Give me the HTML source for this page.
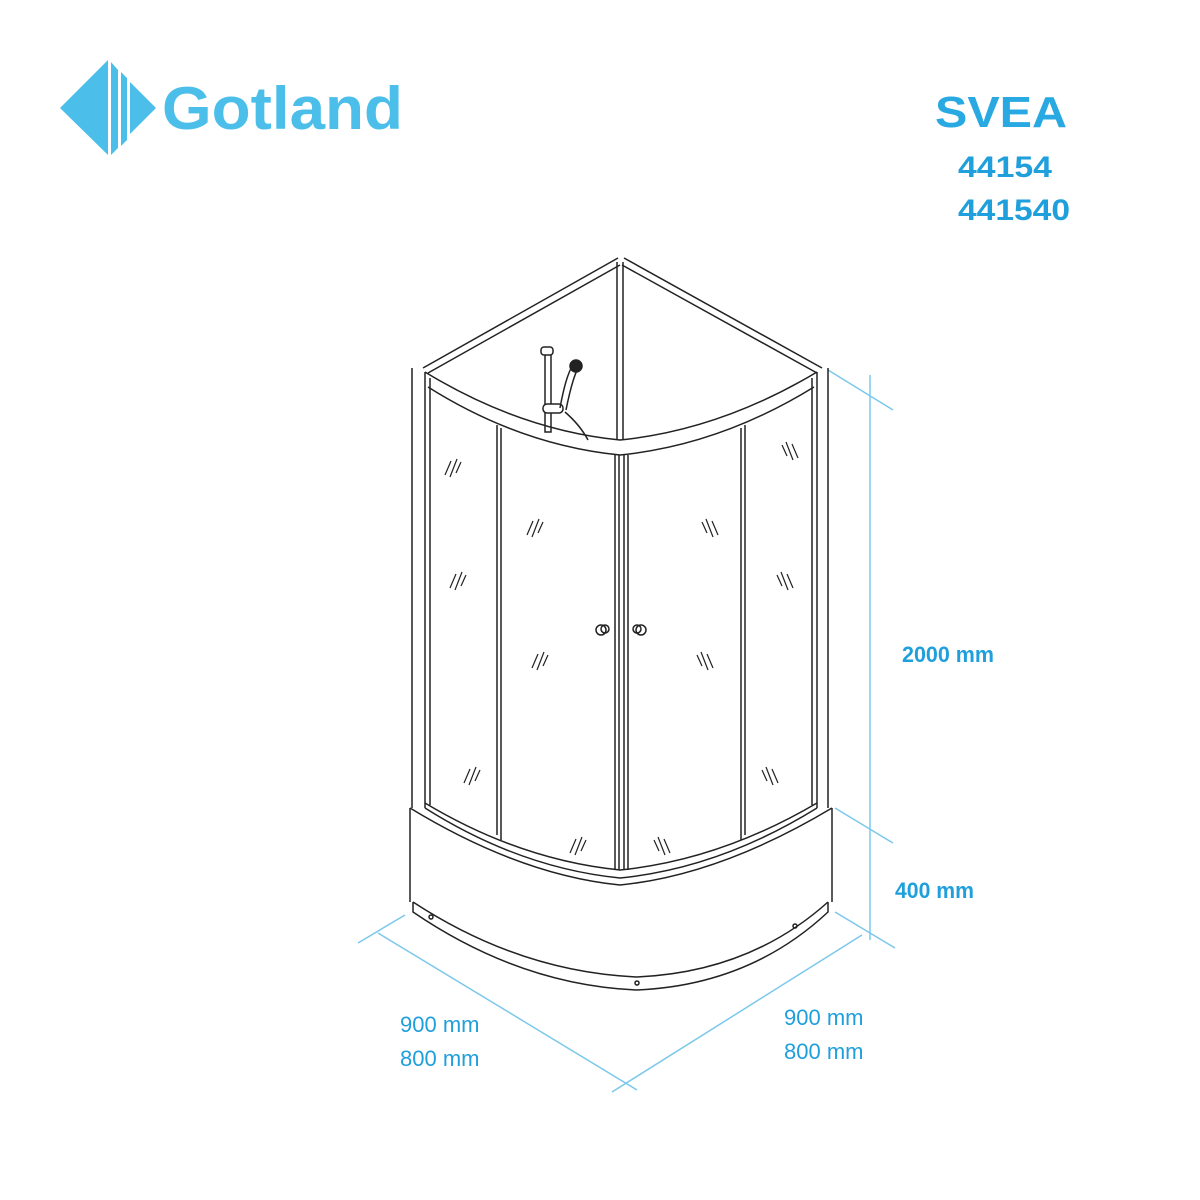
<!DOCTYPE html>
<html><head><meta charset="utf-8"><style>
html,body{margin:0;padding:0;background:#fff;}
svg{display:block}
</style></head><body>
<svg width="1200" height="1200" viewBox="0 0 1200 1200" xmlns="http://www.w3.org/2000/svg">
<defs>
<g id="hl"><line x1="-8" y1="8" x2="-2" y2="-6" /><line x1="-3" y1="10" x2="4" y2="-8"/><line x1="3" y1="6" x2="8" y2="-5"/></g>
<g id="hr"><line x1="8" y1="8" x2="2" y2="-6" /><line x1="3" y1="10" x2="-4" y2="-8"/><line x1="-3" y1="6" x2="-8" y2="-5"/></g>
</defs>
<!-- logo -->
<polygon points="60,108 108,60 108,155" fill="#4bbfea"/>
<polygon points="111,62 118,70 118,148 111,155" fill="#4bbfea"/>
<polygon points="121,72 127,78 127,140 121,146" fill="#4bbfea"/>
<polygon points="130,82 156,108 130,134" fill="#4bbfea"/>
<text x="162" y="129" font-family="Liberation Sans, sans-serif" font-size="60" font-weight="bold" fill="#4bbfea" textLength="241" lengthAdjust="spacingAndGlyphs">Gotland</text>
<text x="935" y="127" font-family="Liberation Sans, sans-serif" font-size="44" font-weight="bold" fill="#29a9e1" textLength="132" lengthAdjust="spacingAndGlyphs">SVEA</text>
<text x="958" y="177" font-family="Liberation Sans, sans-serif" font-size="30" font-weight="bold" fill="#1f9fdc" textLength="94" lengthAdjust="spacingAndGlyphs">44154</text>
<text x="958" y="220" font-family="Liberation Sans, sans-serif" font-size="30" font-weight="bold" fill="#1f9fdc" textLength="112" lengthAdjust="spacingAndGlyphs">441540</text>

<!-- dimension lines -->
<g stroke="#7cc8ea" stroke-width="1.5" fill="none">
<line x1="870" y1="375" x2="870" y2="940"/>
<line x1="828" y1="370" x2="893" y2="410"/>
<line x1="835" y1="808" x2="893" y2="843"/>
<line x1="835" y1="912" x2="895" y2="948"/>
<line x1="358" y1="943" x2="405" y2="915"/>
<line x1="378" y1="933" x2="637" y2="1090"/>
<line x1="612" y1="1092" x2="862" y2="935"/>
</g>
<g font-family="Liberation Sans, sans-serif" fill="#1f9fdc">
<text x="902" y="662" font-size="22" font-weight="bold" textLength="92" lengthAdjust="spacingAndGlyphs">2000 mm</text>
<text x="895" y="898" font-size="22" font-weight="bold" textLength="79" lengthAdjust="spacingAndGlyphs">400 mm</text>
<text x="400" y="1032" font-size="22">900 mm</text>
<text x="400" y="1066" font-size="22">800 mm</text>
<text x="784" y="1025" font-size="22">900 mm</text>
<text x="784" y="1059" font-size="22">800 mm</text>
</g>

<!-- shower drawing -->
<g stroke="#222" stroke-width="1.5" fill="none">
<line x1="423" y1="368" x2="618" y2="258"/>
<line x1="428" y1="373" x2="620" y2="265"/>
<line x1="624" y1="258" x2="822" y2="368"/>
<line x1="622" y1="265" x2="817" y2="373"/>
<line x1="617" y1="262" x2="617" y2="440"/>
<line x1="623" y1="262" x2="623" y2="440"/>
<rect x="545" y="352" width="6" height="80" fill="#fff"/>
<rect x="541" y="347" width="12" height="8" rx="3" fill="#fff"/>
<rect x="543" y="404" width="20" height="9" rx="4" fill="#fff"/>
<path d="M560 408 Q566 375 573 365 M566 410 Q572 380 578 368" />
<circle cx="576" cy="366" r="6" fill="#222"/>
<path d="M565 412 Q580 425 588 440"/>
<line x1="412" y1="368" x2="412" y2="808"/>
<line x1="425" y1="372" x2="425" y2="808"/>
<line x1="430" y1="378" x2="430" y2="805"/>
<line x1="828" y1="368" x2="828" y2="808"/>
<line x1="817" y1="372" x2="817" y2="808"/>
<line x1="812" y1="378" x2="812" y2="805"/>
<path d="M425 372 Q520 430 620 440 Q720 430 817 372"/>
<path d="M428 387 Q520 445 620 455 Q720 445 814 387"/>
<line x1="497" y1="425" x2="497" y2="835"/>
<line x1="501" y1="428" x2="501" y2="840"/>
<line x1="615" y1="455" x2="615" y2="870"/>
<line x1="619" y1="455" x2="619" y2="870"/>
<line x1="624" y1="455" x2="624" y2="870"/>
<line x1="628" y1="455" x2="628" y2="870"/>
<line x1="741" y1="428" x2="741" y2="840"/>
<line x1="745" y1="425" x2="745" y2="835"/>
<circle cx="601" cy="630" r="5"/><circle cx="605" cy="629" r="4"/>
<circle cx="641" cy="630" r="5"/><circle cx="637" cy="629" r="4"/>
<path d="M425 803 Q520 860 620 870 Q720 860 817 803"/>
<path d="M425 808 Q520 868 620 878 Q720 868 817 808"/>
<path d="M410 808 Q520 875 620 885 Q720 875 832 808"/>
<line x1="410" y1="808" x2="410" y2="902"/>
<line x1="832" y1="808" x2="832" y2="902"/>
<path d="M413 902 L413 912 Q520 985 637 990 Q750 985 828 912 L828 902"/>
<path d="M413 902 Q520 972 637 977 Q750 972 828 902"/>
<circle cx="431" cy="917" r="2"/><circle cx="795" cy="926" r="2"/><circle cx="637" cy="983" r="2"/>
<g stroke-width="1.2">
<use href="#hl" x="453" y="467"/><use href="#hl" x="458" y="580"/><use href="#hl" x="472" y="775"/>
<use href="#hl" x="535" y="527"/><use href="#hl" x="540" y="660"/><use href="#hl" x="578" y="845"/>
<use href="#hr" x="710" y="527"/><use href="#hr" x="705" y="660"/><use href="#hr" x="662" y="845"/>
<use href="#hr" x="790" y="450"/><use href="#hr" x="785" y="580"/><use href="#hr" x="770" y="775"/>
</g>
</g>
</svg>
</body></html>
